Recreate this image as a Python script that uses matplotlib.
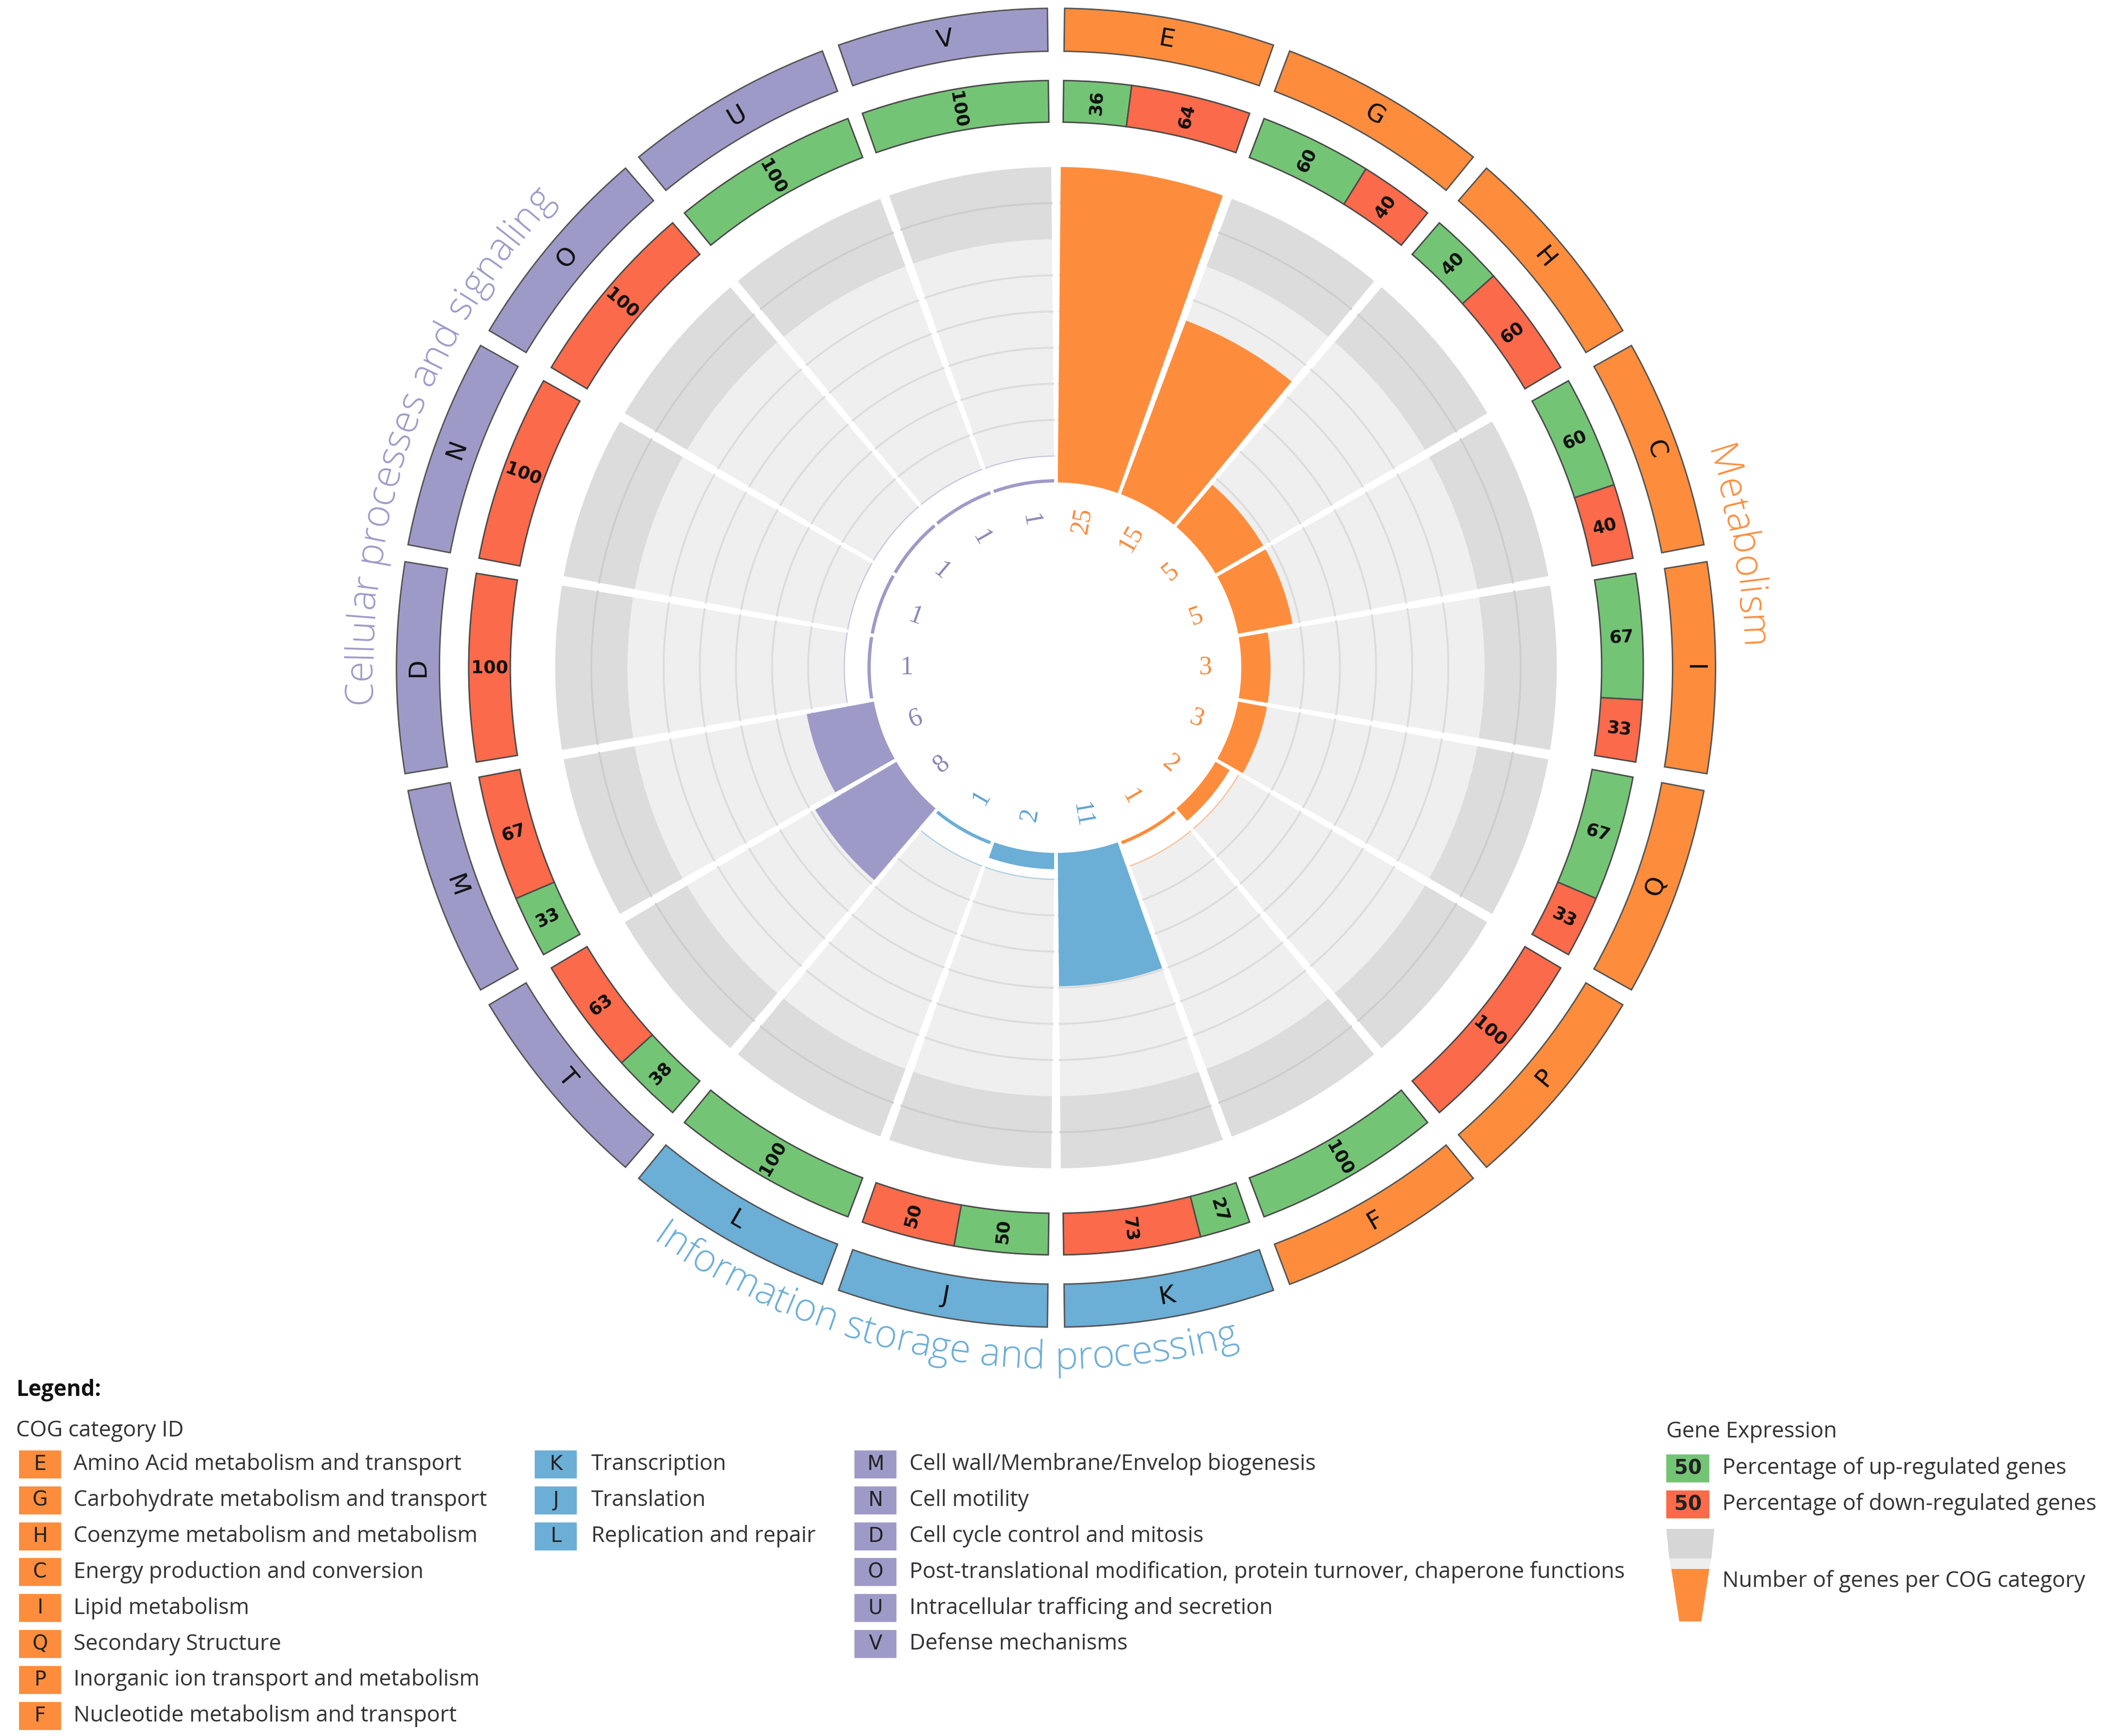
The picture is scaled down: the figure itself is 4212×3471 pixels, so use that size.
import numpy as np
import matplotlib
matplotlib.use("Agg")
import matplotlib.pyplot as plt
from matplotlib.patches import Rectangle, Polygon
from matplotlib.font_manager import FontProperties

# ---- data ----
CATEGORIES = ["E", "G", "H", "C", "I", "Q", "P", "F", "K", "J", "L",
              "T", "M", "D", "N", "O", "U", "V"]
GROUP_OF = ["met"] * 8 + ["info"] * 3 + ["cell"] * 7
GENE_COUNTS = [25, 15, 5, 5, 3, 3, 2, 1, 11, 2, 1, 8, 6, 1, 1, 1, 1, 1]
UP_PCT = [36, 60, 40, 60, 67, 67, 0, 100, 27, 50, 100, 38, 33, 0, 0, 0, 100, 100]
DOWN_PCT = [64, 40, 60, 40, 33, 33, 100, 0, 73, 50, 0, 63, 67, 100, 100, 100, 0, 0]

GROUPS = ["met", "info", "cell"]
GROUP_TITLES = {"met": "Metabolism",
                "info": "Information storage and processing",
                "cell": "Cellular processes and signaling"}
GROUP_COLORS = {"met": "#FD8D3C", "info": "#6BAED6", "cell": "#9E9AC8"}
COUNT_COLORS = {"met": "#F9883A", "info": "#5EA3D0", "cell": "#8A86B8"}

LEGEND_MET = [("E", "Amino Acid metabolism and transport"),
              ("G", "Carbohydrate metabolism and transport"),
              ("H", "Coenzyme metabolism and metabolism"),
              ("C", "Energy production and conversion"),
              ("I", "Lipid metabolism"),
              ("Q", "Secondary Structure"),
              ("P", "Inorganic ion transport and metabolism"),
              ("F", "Nucleotide metabolism and transport")]
LEGEND_INFO = [("K", "Transcription"),
               ("J", "Translation"),
               ("L", "Replication and repair")]
LEGEND_CELL = [("M", "Cell wall/Membrane/Envelop biogenesis"),
               ("N", "Cell motility"),
               ("D", "Cell cycle control and mitosis"),
               ("O", "Post-translational modification, protein turnover, chaperone functions"),
               ("U", "Intracellular trafficing and secretion"),
               ("V", "Defense mechanisms")]

UP_COLOR = "#74C476"
DOWN_COLOR = "#FB6A4A"
TEXT_COLOR = "#333333"

# ---- figure / polar axes ----
W, H, DPI = 4212, 3471, 300
fig = plt.figure(figsize=(W / DPI, H / DPI), dpi=DPI)
CX, CY, R_OUT = 2111, 1335, 1321          # pixel geometry of the circle
R_MIN, R_MAX, R_ORIGIN = 0.75, 37.3, -13.49
ax = fig.add_axes([(CX - R_OUT) / W, (H - CY - R_OUT) / H, 2 * R_OUT / W, 2 * R_OUT / H],
                  projection="polar")
ax.set_theta_zero_location("N")
ax.set_theta_direction(-1)
ax.set_ylim(R_MIN, R_MAX)
ax.set_rorigin(R_ORIGIN)
ax.grid(False)
ax.set_xticks([])
ax.set_yticks([])
ax.set_frame_on(False)   # hides outer/inner spines, patch still clips
PX_PER_UNIT = R_OUT / (R_MAX - R_ORIGIN)

n = len(CATEGORIES)
SECTOR = 360.0 / n
BAR_GAP, RING_GAP = 1.1, 1.5
centers_deg = np.array([SECTOR * (i + 0.5) for i in range(n)])
centers = np.radians(centers_deg)
MAX_V = 25
PCT_IN, PCT_OUT = 28.45, 31.65
LAB_IN, LAB_OUT = 33.9, 37.2
COUNT_R = -2.0


def radial_rot(deg):
    return 90 - deg if deg <= 180 else 270 - deg


def tang_rot(deg):
    return 180 - deg if 90 < deg < 270 else -deg


# background bands
band_edges = np.linspace(0, MAX_V, 10)
band_colors = ["white"] + ["#efefef"] * 6 + ["#dcdcdc"] * 2
bar_w = np.radians(SECTOR - BAR_GAP)
for b in range(9):
    ax.bar(centers, band_edges[b + 1] - band_edges[b], width=bar_w, bottom=band_edges[b],
           color=band_colors[b], linewidth=0, zorder=1)
for i in range(n):
    t = np.linspace(centers[i] - bar_w / 2, centers[i] + bar_w / 2, 60)
    ax.plot(t, np.full_like(t, band_edges[1]), color=GROUP_COLORS[GROUP_OF[i]],
            lw=0.6, alpha=0.5, zorder=1.5)
    for b in [2, 3, 4, 5, 6]:
        ax.plot(t, np.full_like(t, band_edges[b]), color="#dcdcdc", lw=0.9, zorder=1.5)
    ax.plot(t, np.full_like(t, band_edges[8]), color="#cdcdcd", lw=0.9, zorder=1.5)

# gene count bars
ax.bar(centers, GENE_COUNTS, width=bar_w, bottom=0,
       color=[GROUP_COLORS[g] for g in GROUP_OF], linewidth=0, zorder=2)

# count labels near the centre
for i, c in enumerate(GENE_COUNTS):
    ax.text(centers[i], COUNT_R, str(c), rotation=radial_rot(centers_deg[i]),
            rotation_mode="anchor", ha="center", va="center", fontsize=12.5,
            family="Liberation Serif", color=COUNT_COLORS[GROUP_OF[i]], clip_on=False)

# up / down percentage ring
ring_span = SECTOR - RING_GAP
for i in range(n):
    start = SECTOR * i + RING_GAP / 2
    tot = UP_PCT[i] + DOWN_PCT[i]
    pos = start
    for val, col in [(UP_PCT[i], UP_COLOR), (DOWN_PCT[i], DOWN_COLOR)]:
        if val == 0:
            continue
        w = ring_span * val / tot
        mid = pos + w / 2
        ax.bar(np.radians(mid), PCT_OUT - PCT_IN, width=np.radians(w), bottom=PCT_IN,
               color=col, edgecolor="#4a4a4a", linewidth=0.7, zorder=3)
        ax.text(np.radians(mid), (PCT_IN + PCT_OUT) / 2, str(val), rotation=radial_rot(mid),
                rotation_mode="anchor", ha="center", va="center", fontsize=8.5,
                fontweight="bold", color="#111111", zorder=4, clip_on=False)
        pos += w

# category ring
ax.bar(centers, LAB_OUT - LAB_IN, width=np.radians(ring_span), bottom=LAB_IN,
       color=[GROUP_COLORS[g] for g in GROUP_OF], edgecolor="#555555", linewidth=0.7, zorder=3)
for i, cat in enumerate(CATEGORIES):
    ax.text(centers[i], (LAB_IN + LAB_OUT) / 2, cat, rotation=tang_rot(centers_deg[i]),
            rotation_mode="anchor", ha="center", va="center", fontsize=12,
            color="#111111", zorder=4, clip_on=False)

# curved group titles
renderer = fig.canvas.get_renderer()


def curved_text(text, theta_c, r_base, color, flip, size):
    fp = FontProperties(family="Open Sans", size=size, weight="light")

    def tw(s):
        return renderer.get_text_width_height_descent(s + "|", fp, ismath=False)[0]

    ref = tw("")
    starts = [tw(text[:k]) - ref for k in range(len(text))]
    widths = [tw(ch) - ref for ch in text]
    total = tw(text) - ref
    r_px = (r_base - R_ORIGIN) * PX_PER_UNIT
    for k, ch in enumerate(text):
        off = np.degrees((starts[k] + widths[k] / 2 - total / 2) / r_px)
        th = theta_c - off if flip else theta_c + off
        rot = 180 - th if flip else -th
        ax.text(np.radians(th), r_base, ch, rotation=rot, rotation_mode="anchor",
                ha="center", va="baseline", fontproperties=fp, color=color, clip_on=False)


for g in GROUPS:
    idx = [i for i, gg in enumerate(GROUP_OF) if gg == g]
    th_c = SECTOR * (idx[0] + idx[-1] + 1) / 2
    flip = 90 < th_c < 270
    r_base = 40.4 if flip else 39.2
    curved_text(GROUP_TITLES[g], th_c, r_base, GROUP_COLORS[g], flip, 18.5)


# ---- legend (figure pixel coordinates) ----
def fx(x):
    return x / W


def fy(y):
    return 1 - y / H


LEG_FONT = dict(family="Open Sans", fontsize=10.5, color=TEXT_COLOR, va="center", ha="left")
BOX_W, BOX_H = 84, 56
ROW0, ROW_STEP = 2928, 71.8


def legend_column(items, color, box_x, text_x):
    for k, (code, desc) in enumerate(items):
        y = ROW0 + k * ROW_STEP
        fig.patches.append(Rectangle((fx(box_x), fy(y + BOX_H / 2)), BOX_W / W, BOX_H / H,
                                     transform=fig.transFigure, facecolor=color, edgecolor="none"))
        fig.text(fx(box_x + BOX_W / 2), fy(y), code, ha="center", va="center",
                 fontsize=9.5, color="#222222", family="DejaVu Sans")
        fig.text(fx(text_x), fy(y), desc, **LEG_FONT)


fig.text(fx(32), fy(2780), "Legend:", fontweight="bold", **{**LEG_FONT, "color": "#111111"})
fig.text(fx(32), fy(2861), "COG category ID", **LEG_FONT)
legend_column(LEGEND_MET, GROUP_COLORS["met"], 38, 147)
legend_column(LEGEND_INFO, GROUP_COLORS["info"], 1069, 1182)
legend_column(LEGEND_CELL, GROUP_COLORS["cell"], 1708, 1818)

fig.text(fx(3331), fy(2863), "Gene Expression", **LEG_FONT)
for k, (col, lab) in enumerate([(UP_COLOR, "Percentage of up-regulated genes"),
                                (DOWN_COLOR, "Percentage of down-regulated genes")]):
    y = 2936 + k * 72
    fig.patches.append(Rectangle((fx(3331), fy(y + BOX_H / 2)), 86 / W, BOX_H / H,
                                 transform=fig.transFigure, facecolor=col, edgecolor="none"))
    fig.text(fx(3374), fy(y), "50", ha="center", va="center", fontsize=9.5,
             fontweight="bold", color="#222222")
    fig.text(fx(3443), fy(y), lab, **LEG_FONT)

trap = [([(3331, 3057), (3427, 3057), (3421, 3116), (3337, 3116)], "#d6d6d6"),
        ([(3337, 3116), (3421, 3116), (3417, 3137), (3341, 3137)], "#eeeeee"),
        ([(3341, 3137), (3417, 3137), (3401, 3242), (3357, 3242)], GROUP_COLORS["met"])]
for pts, col in trap:
    fig.patches.append(Polygon([(fx(x), fy(y)) for x, y in pts], closed=True,
                               transform=fig.transFigure, facecolor=col, edgecolor="none"))
fig.text(fx(3443), fy(3161), "Number of genes per COG category", **LEG_FONT)

fig.savefig("out.png", dpi=DPI, facecolor="white")
